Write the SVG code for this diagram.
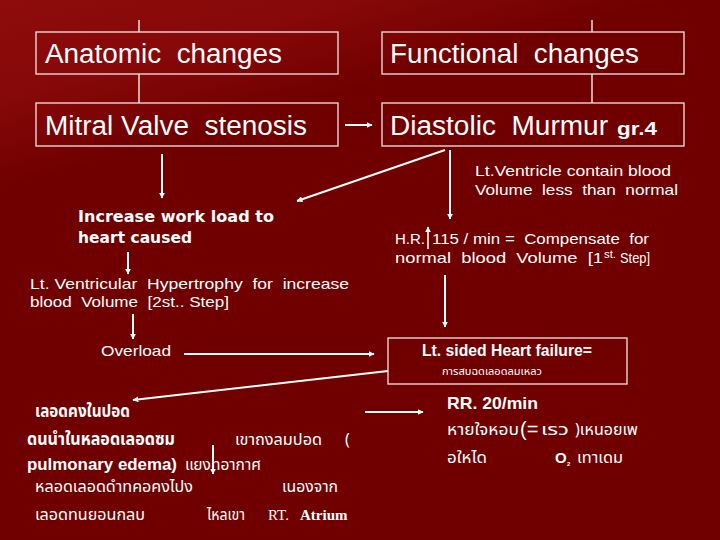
<svg xmlns="http://www.w3.org/2000/svg" width="720" height="540" viewBox="0 0 720 540">
<defs>
<linearGradient id="bg" x1="0" y1="0" x2="0.35" y2="0.45">
<stop offset="0" stop-color="#8e0c0c"/>
<stop offset="0.55" stop-color="#860808"/>
<stop offset="1" stop-color="#700000"/>
</linearGradient>
<marker id="ah" viewBox="0 0 10 10" refX="9" refY="5" markerWidth="6" markerHeight="6" markerUnits="userSpaceOnUse" orient="auto">
<path d="M0,0 L10,5 L0,10 z" fill="#fff"/>
</marker>
<style>
.box{fill:none;stroke:#f2e6e6;stroke-width:1.3}
.ln{stroke:#fff;stroke-width:1.3;fill:none}
.ar{stroke:#fff;stroke-width:2;fill:none;marker-end:url(#ah)}
.big{font-family:"Liberation Sans",Arial,sans-serif;font-size:27px;fill:#fff}
.t{font-family:"Liberation Sans",Arial,sans-serif;font-size:15px;fill:#fff}
.tb{font-family:"DejaVu Sans",Verdana,sans-serif;font-weight:bold;font-size:15px;fill:#fff}
.ab{font-family:"Liberation Sans",Arial,sans-serif;font-weight:bold;font-size:16px;fill:#fff}
.th{font-family:"Noto Sans Thai","Noto Sans","DejaVu Sans",sans-serif;font-size:16px;fill:#fff;font-weight:normal}
.thb{font-family:"Noto Sans Thai","Noto Sans","DejaVu Sans",sans-serif;font-size:17px;fill:#fff;font-weight:bold}
.sr{font-family:"Liberation Serif","Times New Roman",serif;font-size:15px;fill:#fff}
</style>
</defs>
<rect width="720" height="540" fill="#700000"/>
<rect width="720" height="260" fill="url(#bg)"/>

<g id="connectors">
<line class="ln" x1="139" y1="20" x2="139" y2="32"/>
<line class="ln" x1="139" y1="74" x2="139" y2="103"/>
<line class="ln" x1="592" y1="20" x2="592" y2="32"/>
<line class="ln" x1="592" y1="74" x2="592" y2="103"/>
<line class="ar" x1="345" y1="125" x2="372" y2="125"/>
<line class="ar" x1="162" y1="154" x2="162" y2="198"/>
<line class="ar" x1="445" y1="150" x2="297" y2="201"/>
<line class="ar" x1="450" y1="150" x2="450" y2="219"/>
<line class="ar" x1="128" y1="252" x2="128" y2="274"/>
<line class="ar" x1="133" y1="314" x2="133" y2="339"/>
<line class="ar" x1="445" y1="275" x2="445" y2="327"/>
<line class="ar" x1="184" y1="354" x2="374" y2="354"/>
<line class="ar" x1="388" y1="371" x2="133" y2="400"/>
<line class="ar" x1="365" y1="412" x2="423" y2="412"/>
<line class="ar" x1="213" y1="445" x2="213" y2="474"/>
</g>

<g id="anatomic">
<rect class="box" x="36" y="32" width="302" height="42"/>
<text class="big" x="45" y="63" textLength="237" lengthAdjust="spacingAndGlyphs" xml:space="preserve">Anatomic  changes</text>
</g>
<g id="functional">
<rect class="box" x="382" y="32" width="302" height="42"/>
<text class="big" x="390" y="63" textLength="249" lengthAdjust="spacingAndGlyphs" xml:space="preserve">Functional  changes</text>
</g>
<g id="mitral">
<rect class="box" x="36" y="103" width="302" height="43"/>
<text class="big" x="45" y="135" textLength="262" lengthAdjust="spacingAndGlyphs" xml:space="preserve">Mitral Valve  stenosis</text>
</g>
<g id="diastolic">
<rect class="box" x="382" y="103" width="302" height="43"/>
<text class="big" x="390" y="135" textLength="218" lengthAdjust="spacingAndGlyphs" xml:space="preserve">Diastolic  Murmur</text>
<text class="ab" x="617" y="135" style="font-size:19px" textLength="40" lengthAdjust="spacingAndGlyphs">gr.4</text>
</g>

<g id="ltventricle">
<text class="t" x="475" y="176" textLength="196" lengthAdjust="spacingAndGlyphs">Lt.Ventricle contain blood</text>
<text class="t" x="475" y="195" textLength="203" lengthAdjust="spacingAndGlyphs" xml:space="preserve">Volume  less  than  normal</text>
</g>

<g id="increase">
<text class="tb" x="78" y="222" textLength="196" lengthAdjust="spacingAndGlyphs">Increase work load to</text>
<text class="tb" x="78" y="243" textLength="114" lengthAdjust="spacingAndGlyphs">heart caused</text>
</g>

<g id="hr">
<text class="t" x="395" y="244" textLength="30" lengthAdjust="spacingAndGlyphs">H.R.</text>
<line x1="428" y1="249" x2="428" y2="227" stroke="#fff" stroke-width="1.6" marker-end="url(#ah)"/>
<text class="t" x="432" y="244" textLength="217" lengthAdjust="spacingAndGlyphs" xml:space="preserve">115 / min =  Compensate  for</text>
<text class="t" x="395" y="263" textLength="208" lengthAdjust="spacingAndGlyphs" xml:space="preserve">normal  blood  Volume  [1</text>
<text class="t" x="604" y="258" style="font-size:10px" textLength="12" lengthAdjust="spacingAndGlyphs">st.</text>
<text class="t" x="620" y="263" textLength="30" lengthAdjust="spacingAndGlyphs">Step]</text>
</g>

<g id="hypertrophy">
<text class="t" x="30" y="289" textLength="319" lengthAdjust="spacingAndGlyphs" xml:space="preserve">Lt. Ventricular  Hypertrophy  for  increase</text>
<text class="t" x="30" y="307" textLength="199" lengthAdjust="spacingAndGlyphs" xml:space="preserve">blood  Volume  [2st.. Step]</text>
</g>

<g id="overload">
<text class="t" x="101" y="356" textLength="70" lengthAdjust="spacingAndGlyphs">Overload</text>
</g>

<g id="heartfailure">
<rect class="box" x="388" y="338" width="239" height="46"/>
<text class="ab" x="422" y="356" textLength="170" lengthAdjust="spacingAndGlyphs">Lt. sided Heart failure=</text>
<text class="th" x="442" y="375" style="font-size:10.5px" textLength="100" lengthAdjust="spacingAndGlyphs">การสบฉดเลอดลมเหลว</text>
</g>

<g id="rr">
<text class="ab" x="447" y="409" style="font-size:17px" textLength="91" lengthAdjust="spacingAndGlyphs">RR. 20/min</text>
<text class="th" x="447" y="435" textLength="72" lengthAdjust="spacingAndGlyphs">หายใจหอบ</text>
<text class="t" x="520" y="436" style="font-size:20px">(=</text>
<text class="th" x="541" y="435" textLength="28" lengthAdjust="spacingAndGlyphs">เรว</text>
<text class="th" x="575" y="435" textLength="63" lengthAdjust="spacingAndGlyphs">)เหนอยเพ</text>
<text class="th" x="447" y="463" textLength="40" lengthAdjust="spacingAndGlyphs">อใหได</text>
<text class="ab" x="555" y="463" style="font-size:15px">O</text>
<text class="ab" x="567" y="466" style="font-size:6px">2</text>
<text class="th" x="577" y="463" textLength="46" lengthAdjust="spacingAndGlyphs">เทาเดม</text>
</g>

<g id="lung">
<text class="thb" x="35" y="417" textLength="95" lengthAdjust="spacingAndGlyphs">เลอดคงในปอด</text>
<text class="thb" x="27" y="445" textLength="148" lengthAdjust="spacingAndGlyphs">ดนนำในหลอดเลอดซม</text>
<text class="th" x="235" y="445" textLength="87" lengthAdjust="spacingAndGlyphs">เขาถงลมปอด</text>
<text class="th" x="345" y="445">(</text>
<text class="ab" x="27" y="470" textLength="150" lengthAdjust="spacingAndGlyphs">pulmonary edema)</text>
<text class="th" x="185" y="470" textLength="76" lengthAdjust="spacingAndGlyphs">แยงทอากาศ</text>
<text class="th" x="35" y="492" textLength="158" lengthAdjust="spacingAndGlyphs">หลอดเลอดดำทคอคงไปง</text>
<text class="th" x="282" y="492" textLength="56" lengthAdjust="spacingAndGlyphs">เนองจาก</text>
<text class="th" x="35" y="520" textLength="110" lengthAdjust="spacingAndGlyphs">เลอดทนยอนกลบ</text>
<text class="th" x="207" y="520" textLength="38" lengthAdjust="spacingAndGlyphs">ไหลเขา</text>
<text class="sr" x="268" y="520">RT.</text>
<text class="sr" x="300" y="520" style="font-weight:bold">Atrium</text>
</g>
</svg>
